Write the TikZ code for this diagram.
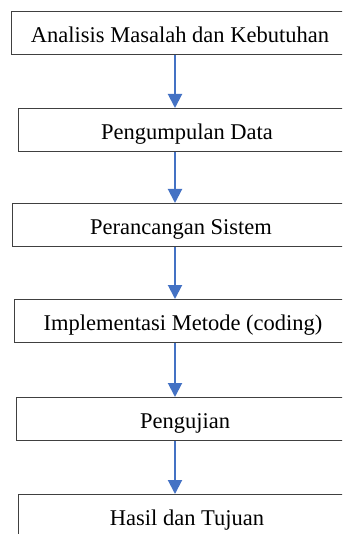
\documentclass[tikz,border=0pt]{standalone}
\usepackage{fontspec}
\setmainfont{Liberation Serif}
\usepackage{xcolor}
\usetikzlibrary{arrows.meta}
\definecolor{FlowBlue}{RGB}{68,114,196}
\definecolor{EdgeGray}{RGB}{64,64,64}

\begin{document}
\begin{tikzpicture}[x=1pt, y=-1pt,
    stage/.style={draw=EdgeGray, line width=1pt, anchor=north west, minimum width=337pt, minimum height=43pt, inner sep=0pt, text height=20pt, text depth=1pt, font=\fontsize{22.5}{27}\selectfont},
    flow/.style={FlowBlue, line width=2pt, -{Triangle[length=14pt, width=14pt]}}]
        \clip (0,0) rectangle (342,534);
        \coordinate (spine) at (175,0);

        \node[stage] (analisis) at (11,11) {Analisis Masalah dan Kebutuhan};
        \node[stage] (data) at (18,108) {Pengumpulan Data};
        \node[stage] (rancang) at (12,203) {Perancangan Sistem};
        \node[stage] (implementasi) at (14,299) {Implementasi Metode (coding)};
        \node[stage] (uji) at (16,397) {Pengujian};
        \node[stage] (hasil) at (18,494) {Hasil dan Tujuan};

        \draw[flow] (analisis.south -| spine) -- (data.north -| spine);
        \draw[flow] (data.south -| spine) -- (rancang.north -| spine);
        \draw[flow] (rancang.south -| spine) -- (implementasi.north -| spine);
        \draw[flow] (implementasi.south -| spine) -- (uji.north -| spine);
        \draw[flow] (uji.south -| spine) -- (hasil.north -| spine);
    \end{tikzpicture}
\end{document}
